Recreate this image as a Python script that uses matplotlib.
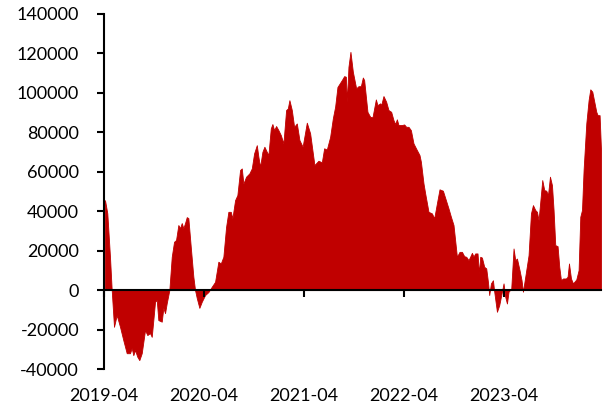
import matplotlib
matplotlib.use("Agg")
import matplotlib.pyplot as plt
import matplotlib.transforms as mtransforms

# time as decimal years (2019.25 ~ 2019-04)
t = [2019.26, 2019.283, 2019.31, 2019.327, 2019.35, 2019.377, 2019.41, 2019.443, 2019.477, 2019.51,
     2019.527, 2019.543, 2019.56, 2019.583, 2019.603, 2019.627, 2019.66, 2019.683, 2019.71, 2019.727,
     2019.743, 2019.76, 2019.777, 2019.793, 2019.827, 2019.843, 2019.86, 2019.877, 2019.903, 2019.927,
     2019.95, 2019.97, 2019.993, 2020.01, 2020.027, 2020.043, 2020.06, 2020.077, 2020.093, 2020.117,
     2020.143, 2020.16, 2020.177, 2020.203, 2020.227, 2020.26, 2020.293, 2020.327, 2020.36, 2020.393,
     2020.417, 2020.443, 2020.47, 2020.493, 2020.517, 2020.533, 2020.56, 2020.583, 2020.61, 2020.627,
     2020.643, 2020.67, 2020.703, 2020.727, 2020.75, 2020.777, 2020.793, 2020.81, 2020.833, 2020.853,
     2020.877, 2020.893, 2020.917, 2020.933, 2020.95, 2020.97, 2020.993, 2021.017, 2021.043, 2021.07,
     2021.087, 2021.103, 2021.127, 2021.15, 2021.177, 2021.203, 2021.235, 2021.277, 2021.31, 2021.353,
     2021.393, 2021.427, 2021.45, 2021.477, 2021.51, 2021.537, 2021.56, 2021.583, 2021.627, 2021.65,
     2021.667, 2021.677, 2021.693, 2021.713, 2021.737, 2021.77, 2021.793, 2021.817, 2021.837, 2021.85,
     2021.883, 2021.91, 2021.933, 2021.967, 2021.983, 2022.01, 2022.02, 2022.043, 2022.07, 2022.093,
     2022.12, 2022.143, 2022.16, 2022.177, 2022.193, 2022.227, 2022.25, 2022.27, 2022.293, 2022.317,
     2022.343, 2022.377, 2022.403, 2022.417, 2022.443, 2022.46, 2022.493, 2022.527, 2022.55, 2022.577,
     2022.603, 2022.637, 2022.667, 2022.693, 2022.717, 2022.743, 2022.777, 2022.803, 2022.827, 2022.85,
     2022.87, 2022.893, 2022.91, 2022.927, 2022.943, 2022.96, 2022.983, 2022.997, 2023.01, 2023.027,
     2023.05, 2023.07, 2023.087, 2023.10, 2023.117, 2023.137, 2023.15, 2023.177, 2023.20, 2023.22,
     2023.243, 2023.26, 2023.277, 2023.293, 2023.32, 2023.343, 2023.36, 2023.377, 2023.403, 2023.423,
     2023.437, 2023.46, 2023.493, 2023.517, 2023.537, 2023.56, 2023.577, 2023.593, 2023.61, 2023.63,
     2023.65, 2023.67, 2023.687, 2023.707, 2023.727, 2023.743, 2023.76, 2023.783, 2023.80, 2023.817,
     2023.837, 2023.867, 2023.883, 2023.897, 2023.917, 2023.937, 2023.97, 2023.993, 2024.01, 2024.027,
     2024.043, 2024.07, 2024.093, 2024.11, 2024.13, 2024.15, 2024.17, 2024.183, 2024.203, 2024.217]

values = [45600, 39000, 16700, 0, -18600, -12700, -18600, -25400, -32000, -32000,
          -29400, -33000, -30400, -33800, -35500, -32000, -20300, -22800, -21800, -23700,
          -15200, -5900, -5000, -15200, -16000, -9000, -11700, -6600, 0, 16900,
          24500, 25400, 33000, 31400, 34000, 31400, 34000, 37000, 36500, 22000,
          6800, 0, -4000, -9000, -5900, -2500, -1000, 1700, 4200, 14400,
          13500, 16900, 32000, 39700, 39700, 36400, 45600, 48200, 60900, 61700,
          54000, 57500, 59200, 61700, 69300, 73500, 67600, 62500, 70100, 72700,
          70100, 68500, 82000, 84200, 81100, 83200, 81100, 78600, 74400, 91300,
          92100, 96300, 91300, 82800, 84500, 76100, 72700, 84900, 79500, 63400,
          65600, 64800, 71900, 71300, 77700, 87100, 93000, 103000, 106500, 108500,
          108200, 95500, 113200, 120800, 110700, 102300, 103400, 103400, 107800, 106500,
          90400, 87900, 87600, 96700, 93800, 94700, 93800, 98400, 95500, 91300,
          90400, 86200, 84200, 86600, 83700, 83700, 84000, 82800, 82800, 81100,
          74400, 71000, 68500, 65100, 54100, 49000, 39700, 38900, 36400, 44000,
          51100, 50400, 45600, 41400, 37200, 33000, 16900, 19400, 19400, 17200,
          16900, 15200, 17000, 18900, 17000, 18600, 18600, 8500, 16900, 16500,
          11800, 11000, 4200, -2500, 3400, 5000, -800, -11000, -7600, -2500,
          3400, -3400, -6800, -800, 800, 21100, 15200, 16000, 10100, 5000,
          -800, 6800, 17700, 38900, 43100, 40600, 39700, 35500, 44800, 55800,
          50700, 50400, 48200, 57500, 53200, 40600, 22800, 22300, 11800, 5000,
          5900, 5900, 6800, 13500, 5900, 3400, 5400, 10100, 37200, 40600,
          60900, 84500, 96300, 101800, 100600, 95500, 90400, 88700, 88700, 71000]

tick_pos = [2019.25, 2020.25, 2021.25, 2022.25, 2023.25]
tick_labels = ["2019-04", "2020-04", "2021-04", "2022-04", "2023-04"]
y_ticks = list(range(-40000, 140001, 20000))

plt.rcParams['font.family'] = ['Lato', 'DejaVu Sans']

fig = plt.figure(figsize=(6.06, 4.09), dpi=100)
ax = fig.add_axes([104/606, 1-369/409, 497/606, 355/409])

ax.fill_between(t, values, 0, color='#C00000', linewidth=0.6, edgecolor='#C00000')

ax.set_xlim(2019.25, 2024.217)
ax.set_ylim(-40000, 140000)
ax.set_yticks(y_ticks)
ax.set_yticklabels([str(v) for v in y_ticks], fontsize=13)

ax.spines['top'].set_visible(False)
ax.spines['right'].set_visible(False)
ax.spines['bottom'].set_position(('data', 0))
ax.spines['left'].set_linewidth(1.5)
ax.spines['bottom'].set_linewidth(1.5)
ax.spines['bottom'].set_zorder(5)

ax.set_xticks(tick_pos)
ax.set_xticklabels([])
ax.tick_params(axis='x', direction='out', length=5, width=1.5)
ax.tick_params(axis='y', direction='out', length=5, width=1.5, pad=13)

trans = mtransforms.blended_transform_factory(ax.transData, ax.transAxes)
for p, lab in zip(tick_pos, tick_labels):
    ax.text(p, -0.076, lab, transform=trans, ha='center', va='center', fontsize=13)

fig.savefig("out.png", dpi=100)
